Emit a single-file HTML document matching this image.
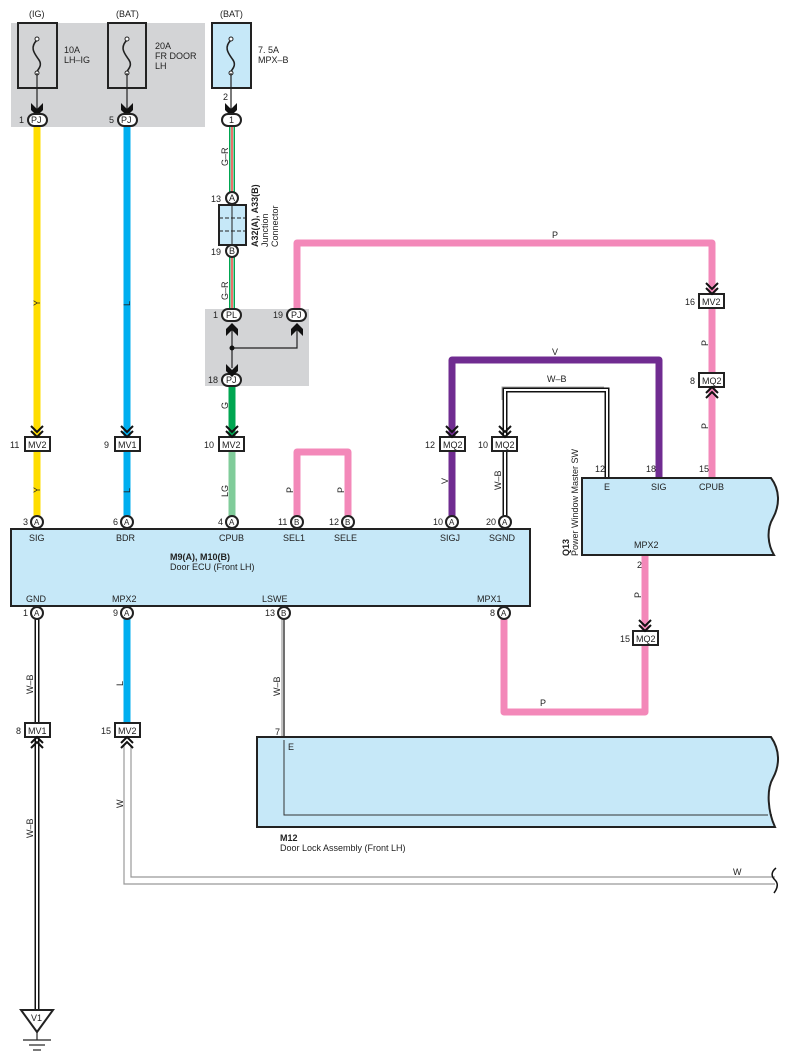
<!DOCTYPE html>
<html><head><meta charset="utf-8"><style>
html,body{margin:0;padding:0;background:#fff;}
svg{display:block;}
text{font-family:"Liberation Sans",sans-serif;font-size:9px;fill:#222;}
.b{font-weight:bold;}
</style></head><body>
<svg width="789" height="1063" viewBox="0 0 789 1063" xmlns="http://www.w3.org/2000/svg">
<defs>
<g id="chev"><path d="M-6,-9 L0,-3 L6,-9 M-6,-4 L0,2 L6,-4" fill="none" stroke="#111" stroke-width="2"/></g>
<g id="chevu"><path d="M-6,9 L0,3 L6,9 M-6,4 L0,-2 L6,4" fill="none" stroke="#111" stroke-width="2"/></g>
</defs>
<!-- gray boxes -->
<rect x="11" y="23" width="194" height="104" fill="#d3d4d6"/>
<rect x="205" y="309" width="104" height="77" fill="#d3d4d6"/>
<!-- fuse boxes -->
<g fill="none" stroke="#222" stroke-width="2">
<rect x="18" y="23" width="39" height="65" fill="#d3d4d6"/>
<rect x="108" y="23" width="38" height="65" fill="#d3d4d6"/>
<rect x="212" y="23" width="39" height="65" fill="#c6e8f8"/>
</g>
<g fill="none" stroke="#222" stroke-width="1.6">
<path d="M37,40 c-8,8 -2,14 2,20 c4,6 -2,10 -2,12"/>
<path d="M127,40 c-8,8 -2,14 2,20 c4,6 -2,10 -2,12"/>
<path d="M231,40 c-8,8 -2,14 2,20 c4,6 -2,10 -2,12"/>
</g>
<g fill="#fff" stroke="#222" stroke-width="1"><circle cx="37" cy="39" r="2"/><circle cx="37" cy="73" r="2"/><circle cx="127" cy="39" r="2"/><circle cx="127" cy="73" r="2"/><circle cx="231" cy="39" r="2"/><circle cx="231" cy="73" r="2"/></g>
<text x="29" y="17">(IG)</text><text x="116" y="17">(BAT)</text><text x="220" y="17">(BAT)</text>
<text x="64" y="53">10A</text><text x="64" y="63">LH–IG</text>
<text x="155" y="49">20A</text><text x="155" y="59">FR DOOR</text><text x="155" y="69">LH</text>
<text x="258" y="53">7. 5A</text><text x="258" y="63">MPX–B</text>
<g stroke="#222" stroke-width="1.2"><line x1="37" y1="73" x2="37" y2="112"/><line x1="127" y1="73" x2="127" y2="112"/><line x1="231" y1="73" x2="231" y2="112"/></g>
<g fill="#111"><path d="M31,103 L37,109 L43,103 L43,110 L37,116 L31,110Z"/><path d="M121,103 L127,109 L133,103 L133,110 L127,116 L121,110Z"/><path d="M225,103 L231,109 L237,103 L237,110 L231,116 L225,110Z"/></g>
<text x="223" y="100">2</text>

<!-- wires -->
<g fill="none" stroke-linejoin="round">
<line x1="37" y1="126" x2="37" y2="520" stroke="#ffdd00" stroke-width="7"/>
<line x1="127" y1="126" x2="127" y2="520" stroke="#00aeef" stroke-width="7"/>
<line x1="127" y1="616" x2="127" y2="723" stroke="#00aeef" stroke-width="7"/>
<line x1="232" y1="386" x2="232" y2="444" stroke="#00a651" stroke-width="7"/>
<line x1="232" y1="450" x2="232" y2="520" stroke="#80cc9a" stroke-width="7"/>
<path d="M297,310 V243 H712 V520" stroke="#f388b9" stroke-width="7"/>
<path d="M297,520 V452 H348 V520" stroke="#f388b9" stroke-width="7"/>
<path d="M645,555 V712 H504 V616" stroke="#f388b9" stroke-width="7"/>
<path d="M452,520 V360 H659 V478" stroke="#702c91" stroke-width="7"/>
</g>
<!-- G-R wire -->
<g fill="none"><line x1="232" y1="125" x2="232" y2="310" stroke="#00a651" stroke-width="6"/><line x1="232" y1="125" x2="232" y2="310" stroke="#fff" stroke-width="3"/><line x1="232" y1="125" x2="232" y2="310" stroke="#e2231a" stroke-width="1.3"/></g>
<!-- W-B double lines -->
<g fill="none">
<path d="M505,520 V390 H607 V478" stroke="#111" stroke-width="5"/><path d="M505,520 V390 H607 V478" stroke="#fff" stroke-width="2"/>
<path d="M502,400 V387 H604" stroke="#aaa" stroke-width="1"/>
<line x1="37" y1="616" x2="37" y2="1012" stroke="#111" stroke-width="5"/><line x1="37" y1="616" x2="37" y2="1012" stroke="#fff" stroke-width="2"/>
<path d="M284,616 V815 H772" stroke="#111" stroke-width="1.2"/>
<line x1="282" y1="616" x2="282" y2="737" stroke="#aaa" stroke-width="1.4"/>
<path d="M124,745 V884 H775" stroke="#999" stroke-width="1.2"/>
<path d="M131,745 V877 H775" stroke="#999" stroke-width="1.2"/>
</g>
<!-- top ovals -->
<g fill="#fff" stroke="#222" stroke-width="2">
<rect x="28" y="114" width="19" height="12" rx="6"/><rect x="118" y="114" width="19" height="12" rx="6"/><rect x="222" y="114" width="19" height="12" rx="6"/>
<rect x="222" y="309" width="19" height="12" rx="6"/><rect x="287" y="309" width="19" height="12" rx="6"/><rect x="222" y="374" width="19" height="12" rx="6"/>
</g>
<text x="31" y="123">PJ</text><text x="121" y="123">PJ</text><text x="229" y="123">1</text>
<text x="19" y="123">1</text><text x="109" y="123">5</text>
<text x="226" y="318">PL</text><text x="291" y="318">PJ</text><text x="226" y="383">PJ</text>
<text x="213" y="318">1</text><text x="273" y="318">19</text><text x="208" y="383">18</text>
<!-- junction in gray box -->
<g stroke="#222" stroke-width="1.2"><line x1="232" y1="330" x2="232" y2="368"/><path d="M232,348 H297 V330" fill="none"/></g>
<circle cx="232" cy="348" r="2.5" fill="#111"/>
<g fill="#111"><path d="M226,336 L232,330 L238,336 L238,329 L232,323 L226,329Z"/><path d="M291,336 L297,330 L303,336 L303,329 L297,323 L291,329Z"/><path d="M226,364 L232,370 L238,364 L238,371 L232,377 L226,371Z"/></g>
<!-- junction connector -->
<rect x="219" y="205" width="27" height="40" fill="#c6e8f8" stroke="#222" stroke-width="2"/>
<g stroke="#222" stroke-width="1"><line x1="232" y1="205" x2="232" y2="245"/><line x1="219" y1="218" x2="246" y2="218" stroke-dasharray="4,2"/><line x1="219" y1="231" x2="246" y2="231" stroke-dasharray="4,2"/></g>
<g fill="#fff" stroke="#222" stroke-width="2"><circle cx="232" cy="198" r="6"/><circle cx="232" cy="251" r="6"/></g>
<text x="229" y="201" font-size="8">A</text><text x="229" y="254" font-size="8">B</text>
<text x="211" y="202">13</text><text x="211" y="255">19</text>
<text transform="translate(258,247) rotate(-90)" class="b">A32(A), A33(B)</text>
<text transform="translate(268,247) rotate(-90)">Junction</text>
<text transform="translate(278,247) rotate(-90)">Connector</text>
<!-- wire labels rotated -->
<g>
<text transform="translate(228,166) rotate(-90)">G–R</text>
<text transform="translate(228,300) rotate(-90)">G–R</text>
<text transform="translate(40,306) rotate(-90)" >Y</text>
<text transform="translate(130,306) rotate(-90)">L</text>
<text transform="translate(228,409) rotate(-90)">G</text>
<text transform="translate(40,493) rotate(-90)">Y</text>
<text transform="translate(130,493) rotate(-90)">L</text>
<text transform="translate(228,497) rotate(-90)">LG</text>
<text transform="translate(293,493) rotate(-90)">P</text>
<text transform="translate(344,493) rotate(-90)">P</text>
<text transform="translate(448,484) rotate(-90)">V</text>
<text transform="translate(501,490) rotate(-90)">W–B</text>
<text transform="translate(708,346) rotate(-90)">P</text>
<text transform="translate(708,429) rotate(-90)">P</text>
<text transform="translate(641,598) rotate(-90)">P</text>
<text transform="translate(33,694) rotate(-90)">W–B</text>
<text transform="translate(123,686) rotate(-90)">L</text>
<text transform="translate(280,696) rotate(-90)">W–B</text>
<text transform="translate(123,808) rotate(-90)">W</text>
<text transform="translate(33,838) rotate(-90)">W–B</text>
</g>
<text x="552" y="238">P</text><text x="552" y="355">V</text><text x="547" y="382">W–B</text><text x="540" y="706">P</text><text x="733" y="875">W</text>
<!-- inline connectors with chevrons -->
<g fill="#fff" stroke="#222" stroke-width="2">
<rect x="25" y="437" width="25" height="14"/><rect x="115" y="437" width="25" height="14"/><rect x="219" y="437" width="25" height="14"/>
<rect x="440" y="437" width="25" height="14"/><rect x="492" y="437" width="25" height="14"/>
<rect x="699" y="294" width="25" height="14"/><rect x="699" y="373" width="25" height="14"/>
<rect x="633" y="631" width="25" height="14"/>
<rect x="25" y="723" width="25" height="14"/><rect x="115" y="723" width="25" height="14"/>
</g>
<text x="28" y="448">MV2</text><text x="118" y="448">MV1</text><text x="222" y="448">MV2</text>
<text x="443" y="448">MQ2</text><text x="495" y="448">MQ2</text>
<text x="702" y="305">MV2</text><text x="702" y="384">MQ2</text><text x="636" y="642">MQ2</text>
<text x="28" y="734">MV1</text><text x="118" y="734">MV2</text>
<text x="10" y="448">11</text><text x="104" y="448">9</text><text x="204" y="448">10</text><text x="425" y="448">12</text><text x="478" y="448">10</text>
<text x="685" y="305">16</text><text x="690" y="384">8</text><text x="620" y="642">15</text><text x="16" y="734">8</text><text x="101" y="734">15</text>
<use href="#chev" x="37" y="435"/><use href="#chev" x="127" y="435"/><use href="#chev" x="232" y="435"/><use href="#chev" x="452" y="435"/><use href="#chev" x="505" y="435"/>
<use href="#chev" x="712" y="292"/><use href="#chev" x="645" y="629"/>
<use href="#chevu" x="712" y="389"/><use href="#chevu" x="37" y="739"/><use href="#chevu" x="127" y="739"/>
<!-- ECU -->
<rect x="11" y="529" width="519" height="77" fill="#c6e8f8" stroke="#222" stroke-width="2"/>
<text x="29" y="541">SIG</text><text x="116" y="541">BDR</text><text x="219" y="541">CPUB</text><text x="283" y="541">SEL1</text><text x="334" y="541">SELE</text><text x="440" y="541">SIGJ</text><text x="489" y="541">SGND</text>
<text x="170" y="560" class="b">M9(A), M10(B)</text><text x="170" y="570">Door ECU (Front LH)</text>
<text x="26" y="602">GND</text><text x="112" y="602">MPX2</text><text x="262" y="602">LSWE</text><text x="477" y="602">MPX1</text>
<g fill="#fff" stroke="#222" stroke-width="2">
<circle cx="37" cy="522" r="6"/><circle cx="127" cy="522" r="6"/><circle cx="232" cy="522" r="6"/><circle cx="297" cy="522" r="6"/><circle cx="348" cy="522" r="6"/><circle cx="452" cy="522" r="6"/><circle cx="505" cy="522" r="6"/>
<circle cx="37" cy="613" r="6"/><circle cx="127" cy="613" r="6"/><circle cx="284" cy="613" r="6"/><circle cx="504" cy="613" r="6"/>
</g>
<g font-size="8"><text x="34" y="525" style="font-size:8px">A</text><text x="124" y="525" style="font-size:8px">A</text><text x="229" y="525" style="font-size:8px">A</text><text x="294" y="525" style="font-size:8px">B</text><text x="345" y="525" style="font-size:8px">B</text><text x="449" y="525" style="font-size:8px">A</text><text x="502" y="525" style="font-size:8px">A</text>
<text x="34" y="616" style="font-size:8px">A</text><text x="124" y="616" style="font-size:8px">A</text><text x="281" y="616" style="font-size:8px">B</text><text x="501" y="616" style="font-size:8px">A</text></g>
<text x="23" y="525">3</text><text x="113" y="525">6</text><text x="218" y="525">4</text><text x="278" y="525">11</text><text x="329" y="525">12</text><text x="433" y="525">10</text><text x="486" y="525">20</text>
<text x="23" y="616">1</text><text x="113" y="616">9</text><text x="265" y="616">13</text><text x="490" y="616">8</text>
<!-- Q13 -->
<path d="M582,478 H771 C780,490 780,505 773,518 C766,530 768,545 774,555 H582 Z" fill="#c6e8f8" stroke="#222" stroke-width="2"/>
<text x="595" y="472">12</text><text x="646" y="472">18</text><text x="699" y="472">15</text>
<text x="604" y="490">E</text><text x="651" y="490">SIG</text><text x="699" y="490">CPUB</text><text x="634" y="548">MPX2</text><text x="637" y="568">2</text>
<text transform="translate(569,556) rotate(-90)" class="b">Q13</text>
<text transform="translate(578,556) rotate(-90)">Power Window Master SW</text>
<!-- M12 -->
<path d="M257,737 H771 C780,750 780,765 773,778 C766,790 768,812 775,827 H257 Z" fill="#c6e8f8" stroke="#222" stroke-width="2"/>
<path d="M284,740 V815 H768" fill="none" stroke="#333" stroke-width="1"/>
<text x="275" y="735">7</text><text x="288" y="750">E</text>
<text x="280" y="841" class="b">M12</text><text x="280" y="851">Door Lock Assembly (Front LH)</text>
<path d="M776,868 c-5,4 -5,8 -1,12 c4,4 2,9 -1,13" fill="none" stroke="#111" stroke-width="1.5"/>
<!-- ground -->
<path d="M21,1010 H53 L37,1032 Z" fill="#fff" stroke="#222" stroke-width="2"/>
<text x="31" y="1021">V1</text>
<g stroke="#222" stroke-width="1.2"><line x1="37" y1="1032" x2="37" y2="1040"/><line x1="23" y1="1040" x2="51" y2="1040"/><line x1="29" y1="1045" x2="45" y2="1045"/><line x1="33" y1="1050" x2="41" y2="1050"/></g>
</svg>
</body></html>
